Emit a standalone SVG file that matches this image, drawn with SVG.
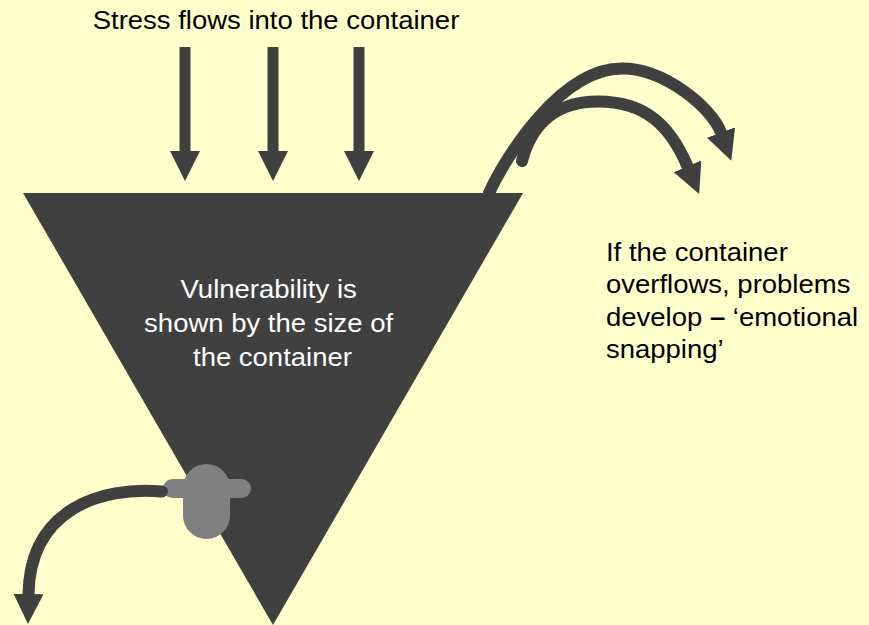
<svg xmlns="http://www.w3.org/2000/svg" width="869" height="625" viewBox="0 0 869 625">
  <style>
    .shaft { fill: none; stroke: #404040; stroke-width: 11; }
    .arc { fill: none; stroke: #404040; stroke-width: 12; stroke-linecap: round; }
    .lbl { font-family: "Liberation Sans", Arial, sans-serif; font-size: 25px; }
    .dark { fill: #000000; }
    .light { fill: #ffffff; }
  </style>
  <defs>
    <marker id="head" viewBox="0 0 30 30" refX="0" refY="15" markerWidth="30" markerHeight="30" markerUnits="userSpaceOnUse" orient="auto">
      <path d="M0,0 L30,15 L0,30 Z" fill="#404040"/>
    </marker>
  </defs>
  <rect x="0" y="0" width="869" height="625" fill="#FFFFCC"/>

  <g id="container">
    <polygon points="23,193 523,193 273,625" fill="#404040"/>
  </g>

  <g id="tap">
    <rect x="183" y="464" width="47" height="75" rx="23.5" ry="23.5" fill="#808080"/>
    <rect x="163" y="479" width="88" height="19" rx="9.5" ry="9.5" fill="#808080"/>
  </g>

  <g id="connectors">
    <path class="shaft" d="M185,47 L185,151" marker-end="url(#head)"/>
    <path class="shaft" d="M273,47 L273,151" marker-end="url(#head)"/>
    <path class="shaft" d="M359,47 L359,151" marker-end="url(#head)"/>
    <path class="arc" d="M489,193 C505,158 560,68.5 622,68.5 C665,68.5 712,108 721,132.5" marker-end="url(#head)"/>
    <path class="arc" d="M522,161 C530,130 550,101.5 598,101.5 C645,101.5 670,125 687.5,166.3" marker-end="url(#head)"/>
    <path class="arc" d="M162,491.5 C100,486 30,510 28.5,594" marker-end="url(#head)"/>
  </g>

  <g id="labels" transform="scale(1.1,1)">
    <g id="title">
      <text class="lbl dark" x="250.9" y="29" text-anchor="middle">Stress flows into the container</text>
    </g>
    <g id="vulnerability">
      <text class="lbl light" text-anchor="middle">
        <tspan x="247.7" y="298">Vulnerability is</tspan>
        <tspan x="247.7" y="332">shown by the size of</tspan>
        <tspan x="247.7" y="366">the container</tspan>
      </text>
    </g>
    <g id="overflow">
      <text class="lbl dark">
        <tspan x="550.9" y="261.5">If the container</tspan>
        <tspan x="550.9" y="293.5">overflows, problems</tspan>
        <tspan x="550.9" y="326">develop <tspan font-weight="bold">–</tspan> ‘emotional</tspan>
        <tspan x="550.9" y="358">snapping’</tspan>
      </text>
    </g>
  </g>
</svg>
